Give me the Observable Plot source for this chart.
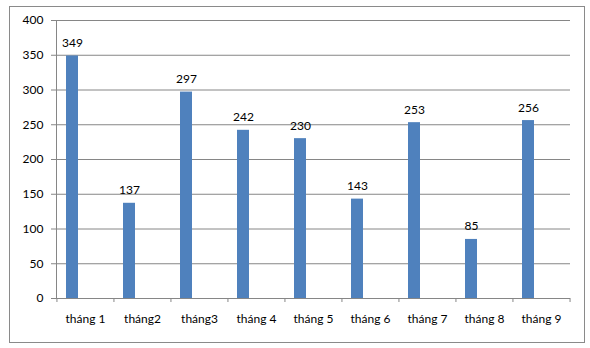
<!DOCTYPE html>
<html>
<head>
<meta charset="utf-8">
<script src="https://cdn.jsdelivr.net/npm/d3@7"></script>
<script src="https://cdn.jsdelivr.net/npm/@observablehq/plot@0.6"></script>
<style>
  html, body { margin: 0; padding: 0; background: #fff; }
  #wrap { position: relative; width: 590px; height: 348px; }
  #border { position: absolute; left: 9px; top: 6px; width: 576px; height: 337px; border: 1px solid #8a8a8a; box-sizing: border-box; pointer-events: none; }
  #chart { position: absolute; left: 0; top: 0; }
</style>
</head>
<body>
<div id="wrap"><div id="chart"></div><div id="border"></div></div>
<script>
const months = ["tháng 1", "tháng2", "tháng3", "tháng 4", "tháng 5", "tháng 6", "tháng 7", "tháng 8", "tháng 9"];
const values = [349, 137, 297, 242, 230, 143, 253, 85, 256];
const yTicks = [0, 50, 100, 150, 200, 250, 300, 350, 400];

const data = months.map((m, i) => ({month: m, value: values[i]}));

const W = 590, H = 348, mL = 56, mR = 20, mT = 20, mB = 50;
const step = (W - mL - mR) / months.length;
const shift = -13;
const grey = "#868686";

const chart = Plot.plot({
  width: W,
  height: H,
  marginLeft: mL,
  marginRight: mR,
  marginTop: mT,
  marginBottom: mB,
  style: {fontFamily: "Lato, 'Open Sans', sans-serif", fontSize: "12px", color: "#000", background: "#fff"},
  x: {domain: months, paddingInner: 0.79, paddingOuter: 0.395, label: null},
  y: {domain: [0, 400], label: null},
  marks: [
    Plot.gridY(yTicks, {stroke: grey, strokeOpacity: 1}),
    Plot.frame({anchor: "left", stroke: grey}),
    Plot.ruleY([0], {stroke: grey}),
    Plot.axisY(yTicks, {tickSize: 5, tickPadding: 8, stroke: grey, fill: "#000", label: null}),
    Plot.axisX({tickSize: 4, dx: -step / 2, text: null, stroke: grey, label: null}),
    Plot.axisX([months[months.length - 1]], {tickSize: 4, dx: step / 2, text: null, stroke: grey, label: null}),
    Plot.axisX({tickSize: 0, tickPadding: 16, fill: "#000", label: null}),
    Plot.barY(data, {x: "month", y: "value", fill: "#4F81BD", dx: shift}),
    Plot.text(data, {x: "month", y: "value", text: d => String(d.value), dx: shift, dy: -9, lineAnchor: "bottom", fill: "#000"})
  ]
});
document.getElementById("chart").appendChild(chart);
</script>
</body>
</html>
